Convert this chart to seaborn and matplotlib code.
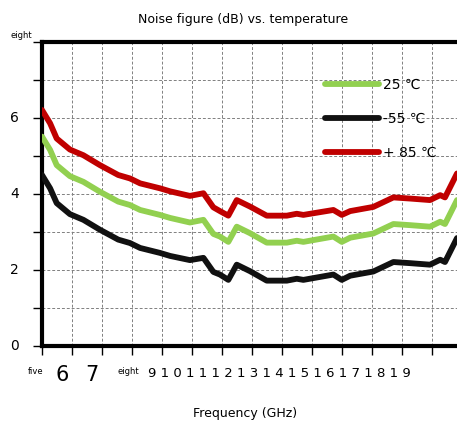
import matplotlib
matplotlib.use("Agg")
import matplotlib.pyplot as plt
import matplotlib.transforms as mtransforms
from matplotlib.lines import Line2D
import seaborn as sns
import pandas as pd

# values
freq = [5.0, 5.27, 5.49, 5.93, 6.38, 6.93, 7.54, 7.93, 8.27, 8.93, 9.27, 9.93,
        10.38, 10.71, 10.93, 11.21, 11.49, 11.93, 12.49, 13.16, 13.49, 13.71,
        14.71, 14.99, 15.27, 16.04, 16.71, 17.27, 17.93, 18.27, 18.43, 18.83]
nf_25 = [5.51, 5.16, 4.76, 4.47, 4.32, 4.06, 3.80, 3.71, 3.58, 3.45, 3.37, 3.25,
         3.32, 2.95, 2.88, 2.74, 3.14, 2.97, 2.72, 2.72, 2.77, 2.74,
         2.88, 2.74, 2.85, 2.96, 3.21, 3.18, 3.14, 3.27, 3.21, 3.84]
nf_m55 = [4.50, 4.15, 3.76, 3.47, 3.32, 3.06, 2.80, 2.71, 2.58, 2.45, 2.37, 2.26,
          2.32, 1.95, 1.88, 1.74, 2.14, 1.97, 1.72, 1.72, 1.77, 1.74,
          1.88, 1.74, 1.85, 1.96, 2.21, 2.18, 2.14, 2.27, 2.21, 2.84]
nf_85 = [6.21, 5.86, 5.46, 5.17, 5.02, 4.76, 4.50, 4.41, 4.28, 4.15, 4.07, 3.95,
         4.02, 3.65, 3.55, 3.43, 3.84, 3.67, 3.43, 3.43, 3.48, 3.45,
         3.58, 3.45, 3.55, 3.66, 3.91, 3.88, 3.84, 3.97, 3.91, 4.54]

series_labels = ["25 ℃", "-55 ℃", "+ 85 ℃"]
series_colors = ["#92d050", "#111111", "#c00000"]

x_ticks = list(range(5, 19))
x_tick_labels = ["five", "6", "7", "eight",
                 "9 1 0 1 1 1 2 1 3 1 4 1 5 1 6 1 7 1 8 1 9"] + [""] * 9
y_ticks = list(range(0, 9))
y_tick_labels = ["0", "", "2", "", "4", "", "6", "", "eight"]

df = pd.concat([
    pd.DataFrame({"freq": freq, "nf": vals, "series": name})
    for name, vals in zip(series_labels, [nf_25, nf_m55, nf_85])
])

sns.set_style("ticks")
plt.rcParams.update({"text.color": "black", "xtick.labelcolor": "black",
                     "ytick.labelcolor": "black", "axes.labelcolor": "black"})
fig = plt.figure(figsize=(4.57, 4.28), dpi=100)
ax = fig.add_axes([42 / 457, 1 - 346 / 428, 1 - 42 / 457, (346 - 42) / 428])

sns.lineplot(data=df, x="freq", y="nf", hue="series", hue_order=series_labels,
             palette=series_colors, lw=4.2, solid_capstyle="round", legend=False,
             ax=ax, zorder=3)

ax.set_xlim(5, 18.83)
ax.set_ylim(0, 8)
ax.set_axisbelow(True)
ax.grid(True, color="#808080", linestyle=(0, (3, 2)), lw=0.7)

for side in ["left", "top", "bottom"]:
    ax.spines[side].set_linewidth(3)
    ax.spines[side].set_color("black")
ax.spines["right"].set_visible(False)
ax.tick_params(direction="out", length=6.5, width=1, color="black")
ax.tick_params(axis="y", pad=10)

ax.set_xticks(x_ticks)
ax.set_xticklabels(x_tick_labels)
ax.set_yticks(y_ticks)
ax.set_yticklabels(y_tick_labels, fontsize=10)

# odd label sizes / offsets as in the original
def shift(lbl, dx, dy):
    off = mtransforms.ScaledTranslation(dx / fig.dpi, dy / fig.dpi, fig.dpi_scale_trans)
    lbl.set_transform(lbl.get_transform() + off)

xl = ax.get_xticklabels()
xl[0].set_fontsize(6); shift(xl[0], -6, -7)
xl[1].set_fontsize(15); shift(xl[1], -10, -5)
xl[2].set_fontsize(15); shift(xl[2], -10, -5)
xl[3].set_fontsize(6); shift(xl[3], -4, -7)
xl[4].set_fontsize(9.5); xl[4].set_ha("left"); shift(xl[4], -14, -7)
yl = ax.get_yticklabels()
for lbl in yl[:8]:
    shift(lbl, 0, 2)
yl[8].set_fontsize(6); shift(yl[8], 13, 8)

ax.set_title("Noise figure (dB) vs. temperature", fontsize=9, pad=14, x=0.484)
ax.set_xlabel("Frequency (GHz)", fontsize=9)
ax.xaxis.set_label_coords((245 - 42) / 415, -(407 - 346) / 304)
ax.set_ylabel("")

handles = [Line2D([], [], color=c, lw=4.2, solid_capstyle="round") for c in series_colors]
ax.legend(handles, series_labels, loc="upper left", frameon=False, fontsize=10,
          bbox_to_anchor=(325 / 457, 1 - 77.5 / 428), bbox_transform=fig.transFigure,
          borderaxespad=0, borderpad=0, handlelength=3.9, handletextpad=0.25,
          labelspacing=1.45)

fig.savefig("out.png", dpi=100)
